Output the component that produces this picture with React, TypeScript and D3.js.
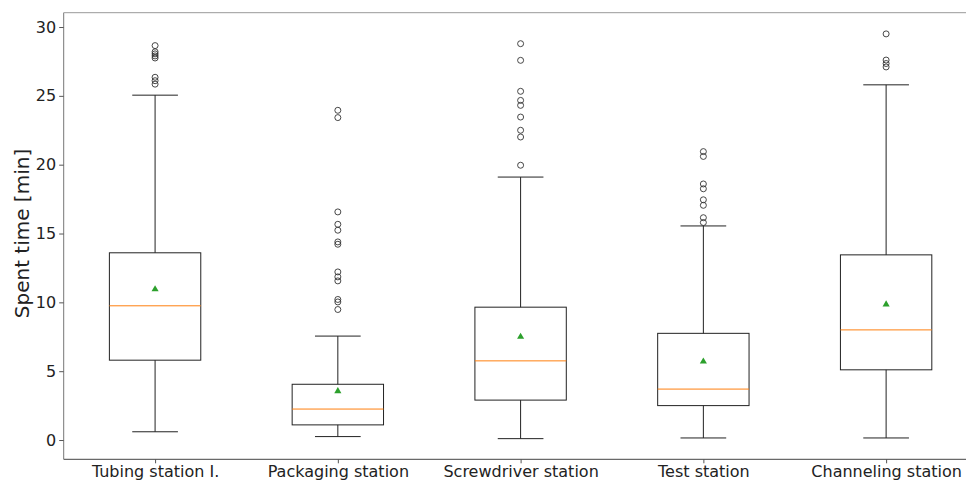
import React, { useEffect, useRef } from 'react';
import * as d3 from 'd3';

// stations
const categories = [
  'Tubing station I.',
  'Packaging station',
  'Screwdriver station',
  'Test station',
  'Channeling station',
];

// box statistics [min]
const q1 = [5.8, 1.1, 2.9, 2.5, 5.1];
const medians = [9.75, 2.25, 5.75, 3.7, 8.0];
const q3 = [13.6, 4.05, 9.65, 7.75, 13.45];
const means = [10.95, 3.55, 7.5, 5.7, 9.85];
const whiskerLow = [0.6, 0.25, 0.1, 0.15, 0.15];
const whiskerHigh = [25.05, 7.55, 19.1, 15.55, 25.8];

// fliers per station
const outliers = [
  [28.65, 28.2, 28.05, 27.9, 27.75, 26.35, 26.1, 25.85],
  [23.95, 23.42, 16.57, 15.67, 15.24, 14.39, 14.22, 12.21, 11.85, 11.56, 10.21, 10.03, 9.48],
  [28.79, 27.58, 25.33, 24.67, 24.31, 23.46, 22.5, 22.01, 19.96],
  [20.95, 20.6, 18.6, 18.25, 17.45, 17.05, 16.15, 15.8],
  [29.5, 27.6, 27.35, 27.1],
];

const yTicks = [0, 5, 10, 15, 20, 25, 30];

export default function App() {
  const ref = useRef<SVGSVGElement>(null);

  useEffect(() => {
    const width = 966;
    const height = 482;
    const font = 'DejaVu Sans, sans-serif';

    const x = d3.scaleLinear().domain([0.5, 5.5]).range([63.7, 977.5]);
    const y = d3.scaleLinear().domain([-1.4, 31.04]).range([459.3, 12.7]);
    const unit = x(1) - x(0);

    const svg = d3.select(ref.current).attr('viewBox', [0, 0, width, height]);
    svg.selectAll('*').remove();

    const g = svg.append('g');

    // boxes
    categories.forEach((c, i) => {
      const cx = x(i + 1);
      const bw = unit * 0.5;
      const cw = unit * 0.25;
      const stroke = '#222';

      // whiskers
      g.append('line')
        .attr('x1', cx).attr('x2', cx)
        .attr('y1', y(q3[i])).attr('y2', y(whiskerHigh[i]))
        .attr('stroke', stroke).attr('stroke-width', 1);
      g.append('line')
        .attr('x1', cx).attr('x2', cx)
        .attr('y1', y(q1[i])).attr('y2', y(whiskerLow[i]))
        .attr('stroke', stroke).attr('stroke-width', 1);
      // caps
      [whiskerHigh[i], whiskerLow[i]].forEach((v) => {
        g.append('line')
          .attr('x1', cx - cw / 2).attr('x2', cx + cw / 2)
          .attr('y1', y(v)).attr('y2', y(v))
          .attr('stroke', stroke).attr('stroke-width', 1);
      });
      // box
      g.append('rect')
        .attr('x', cx - bw / 2)
        .attr('y', y(q3[i]))
        .attr('width', bw)
        .attr('height', y(q1[i]) - y(q3[i]))
        .attr('fill', 'none')
        .attr('stroke', stroke)
        .attr('stroke-width', 1);
      // median
      g.append('line')
        .attr('x1', cx - bw / 2).attr('x2', cx + bw / 2)
        .attr('y1', y(medians[i])).attr('y2', y(medians[i]))
        .attr('stroke', '#ff7f0e').attr('stroke-width', 1);
      // mean
      g.append('path')
        .attr('d', d3.symbol(d3.symbolTriangle, 22)())
        .attr('transform', `translate(${cx},${y(means[i])})`)
        .attr('fill', '#2ca02c');
      // fliers
      g.selectAll(null)
        .data(outliers[i])
        .join('circle')
        .attr('cx', cx)
        .attr('cy', (d) => y(d))
        .attr('r', 3)
        .attr('fill', 'none')
        .attr('stroke', '#333')
        .attr('stroke-width', 0.9);
    });

    // spines
    svg.append('line')
      .attr('x1', 63.7).attr('x2', 63.7).attr('y1', 12.7).attr('y2', 459.3)
      .attr('stroke', '#777').attr('stroke-width', 1);
    svg.append('line')
      .attr('x1', 63.7).attr('x2', 977.5).attr('y1', 12.7).attr('y2', 12.7)
      .attr('stroke', '#999').attr('stroke-width', 1);
    svg.append('line')
      .attr('x1', 63.7).attr('x2', 977.5).attr('y1', 459.3).attr('y2', 459.3)
      .attr('stroke', '#444').attr('stroke-width', 1);

    // y axis
    const yAxis = svg.append('g').attr('transform', 'translate(63.7,0)')
      .call(d3.axisLeft(y).tickValues(yTicks).tickSize(4.5).tickPadding(3).tickSizeOuter(0));
    yAxis.select('.domain').remove();
    yAxis.selectAll('line').attr('stroke', '#555');
    yAxis.selectAll('text').style('font-family', font).style('font-size', '16px').attr('fill', '#222');

    // x axis
    const xAxis = svg.append('g').attr('transform', 'translate(0,459.3)')
      .call(
        d3.axisBottom(x)
          .tickValues(d3.range(1, categories.length + 1))
          .tickFormat((d) => categories[(d as number) - 1])
          .tickSize(4)
          .tickPadding(2)
          .tickSizeOuter(0),
      );
    xAxis.select('.domain').remove();
    xAxis.selectAll('line').attr('stroke', '#555');
    xAxis.selectAll('text').style('font-family', font).style('font-size', '16px').attr('fill', '#222');

    // y label
    svg.append('text')
      .attr('transform', `translate(29,${y(15)}) rotate(-90)`)
      .attr('text-anchor', 'middle')
      .style('font-family', font)
      .style('font-size', '20px')
      .attr('fill', '#222')
      .text('Spent time [min]');
  });

  return (
    <svg
      ref={ref}
      width={966}
      height={482}
      style={{ position: 'fixed', top: 0, left: 0, background: '#fff' }}
    />
  );
}
